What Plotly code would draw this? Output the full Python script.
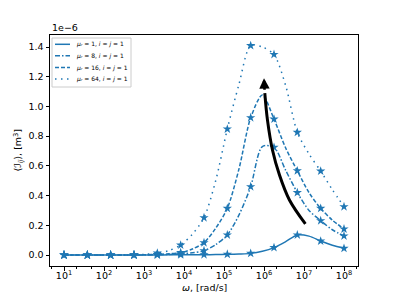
import plotly.graph_objects as go

# data (values in units of 1e-6 m^3)
# marker positions (stars)
omega_exp = [1, 1.583, 2.167, 2.75, 3.333, 3.917, 4.5, 5.083, 5.667, 6.25, 6.833, 7.417, 8]
omega = [10 ** e for e in omega_exp]
mu1 = [0, 0, 0, 0, 0.0005, 0.001, 0.002, 0.005, 0.011, 0.05, 0.135, 0.094, 0.045]
mu8 = [0, 0, 0, 0, 0.002, 0.008, 0.029, 0.135, 0.46, 0.725, 0.42, 0.231, 0.128]
mu16 = [0, 0, 0, 0, 0.004, 0.016, 0.083, 0.314, 0.924, 0.915, 0.567, 0.314, 0.175]
mu64 = [0, 0, 0, 0.001, 0.013, 0.067, 0.251, 0.848, 1.41, 1.35, 0.826, 0.565, 0.325]

# line curves (read at finer spacing)
line_exp = [1.0, 1.292, 1.583, 1.875, 2.167, 2.458, 2.75, 3.042, 3.333, 3.625, 3.917, 4.208,
            4.5, 4.792, 5.083, 5.375, 5.667, 5.958, 6.25, 6.542, 6.833, 7.125, 7.417, 7.708, 8.0]
line_omega = [10 ** e for e in line_exp]
mu1_line = [0, 0, 0, 0, 0, 0, 0, 0, 0.0005, 0.001, 0.001, 0.0015, 0.002, 0.003, 0.005, 0.007,
            0.011, 0.025, 0.05, 0.09, 0.135, 0.127, 0.094, 0.066, 0.045]
mu8_line = [0, 0, 0, 0, 0, 0, 0, 0.001, 0.002, 0.004, 0.008, 0.015, 0.029, 0.07, 0.135, 0.27,
            0.46, 0.73, 0.725, 0.57, 0.42, 0.30, 0.231, 0.17, 0.128]
mu16_line = [0, 0, 0, 0, 0, 0, 0, 0.002, 0.004, 0.008, 0.016, 0.04, 0.083, 0.18, 0.314, 0.58,
             0.924, 1.077, 0.915, 0.72, 0.567, 0.42, 0.314, 0.235, 0.175]
mu64_line = [0, 0, 0, 0, 0, 0, 0.001, 0.005, 0.013, 0.03, 0.067, 0.14, 0.251, 0.5, 0.848, 1.15,
             1.41, 1.40, 1.35, 1.14, 0.826, 0.68, 0.565, 0.44, 0.325]

series_names = [
    "<i>μᵣ</i> = 1, <i>i</i> = <i>j</i> = 1",
    "<i>μᵣ</i> = 8, <i>i</i> = <i>j</i> = 1",
    "<i>μᵣ</i> = 16, <i>i</i> = <i>j</i> = 1",
    "<i>μᵣ</i> = 64, <i>i</i> = <i>j</i> = 1",
]
series_marks = [mu1, mu8, mu16, mu64]
series_lines = [mu1_line, mu8_line, mu16_line, mu64_line]
series_dash = ["solid", "5px,2px,1.5px,2px", "4px,2px", "1.5px,4.5px"]

xtick_vals = [10 ** k for k in range(1, 9)]
xtick_text = ["10<sup>%d</sup>" % k for k in range(1, 9)]
ytick_vals = [0.0, 0.2, 0.4, 0.6, 0.8, 1.0, 1.2, 1.4]
ytick_text = ["%.1f" % v for v in ytick_vals]

# trend arrow (annotation)
arrow_x = [10 ** 7.035, 10 ** 6.636, 10 ** 6.387, 10 ** 6.212, 10 ** 6.087, 10 ** 6.02]
arrow_y = [0.209, 0.370, 0.538, 0.707, 0.908, 1.09]
arrow_tip = (6.0, 1.19)

C = "#1f77b4"
fig = go.Figure()
for name, marks, line, dash in zip(series_names, series_marks, series_lines, series_dash):
    fig.add_trace(go.Scatter(
        x=line_omega, y=line, mode="lines", name=name, showlegend=False,
        line=dict(color=C, width=1.5, dash=dash, shape="spline", smoothing=0.8),
    ))
    fig.add_trace(go.Scatter(
        x=omega, y=marks, mode="markers", showlegend=False,
        marker=dict(symbol="star", size=7, color=C),
    ))

fig.add_trace(go.Scatter(
    x=arrow_x, y=arrow_y, mode="lines", showlegend=False, hoverinfo="skip",
    line=dict(color="black", width=3, shape="spline"),
))
fig.add_annotation(
    x=arrow_tip[0], y=arrow_tip[1], xref="x", yref="y",
    ax=0.6, ay=13, axref="pixel", ayref="pixel",
    showarrow=True, arrowhead=2, arrowsize=0.8, arrowwidth=2.6, arrowcolor="black", text="",
)

fig.add_annotation(
    x=0, y=1.0, xref="paper", yref="paper", xanchor="left", yanchor="bottom",
    text="1e−6", showarrow=False, font=dict(size=9.5, color="black"), yshift=0,
)

# axis titles
fig.add_annotation(
    x=0.5, y=0, xref="paper", yref="paper", yshift=-21, xanchor="center", yanchor="middle",
    text="<i>ω</i>, [rad/s]", showarrow=False, font=dict(size=9.5, color="black"),
)
fig.add_annotation(
    x=0, y=0.5, xref="paper", yref="paper", xshift=-32, xanchor="center", yanchor="middle",
    textangle=-90, text="⟨<i>ℐ</i><sub><i>ij</i></sub>⟩, [m<sup>3</sup>]", showarrow=False,
    font=dict(size=9.5, color="black"),
)

# hand-drawn legend (pixel offsets from the top-left corner of the plot area)
fig.add_shape(
    type="rect", xref="paper", yref="paper", xsizemode="pixel", ysizemode="pixel",
    xanchor=0, yanchor=1, x0=2, x1=81, y0=-3, y1=-52,
    line=dict(color="#cccccc", width=1), fillcolor="rgba(255,255,255,0.8)",
)
legend_rows = [-9.3, -20.7, -32.5, -44]
for name, dash, yy in zip(series_names, series_dash, legend_rows):
    fig.add_shape(
        type="line", xref="paper", yref="paper", xsizemode="pixel", ysizemode="pixel",
        xanchor=0, yanchor=1, x0=5, x1=20, y0=yy, y1=yy,
        line=dict(color=C, width=1.5, dash=dash),
    )
    fig.add_annotation(
        x=0, y=1, xref="paper", yref="paper", xshift=24, yshift=yy,
        xanchor="left", yanchor="middle", text=name, showarrow=False,
        font=dict(size=6, color="black"),
    )

font = "DejaVu Sans"
fig.update_layout(
    width=391, height=291,
    margin=dict(l=42, r=41, t=27, b=33),
    paper_bgcolor="white", plot_bgcolor="white",
    font=dict(family=font, size=9.5, color="black"),
    showlegend=False,
    xaxis=dict(
        type="log", range=[0.65, 8.35], automargin=False,
        tickvals=xtick_vals, ticktext=xtick_text,
        ticks="outside", ticklen=3.5, tickcolor="black", ticklabelstandoff=-3,
        showline=True, linecolor="black", linewidth=1, mirror=True,
        showgrid=False, zeroline=False,
        minor=dict(ticks="outside", ticklen=2, tickcolor="black", showgrid=False),
    ),
    yaxis=dict(
        range=[-0.074, 1.481], automargin=False,
        tickvals=ytick_vals, ticktext=ytick_text,
        ticks="outside", ticklen=3.5, tickcolor="black",
        showline=True, linecolor="black", linewidth=1, mirror=True,
        showgrid=False, zeroline=False,
    ),
)

fig.write_html("out.html")
